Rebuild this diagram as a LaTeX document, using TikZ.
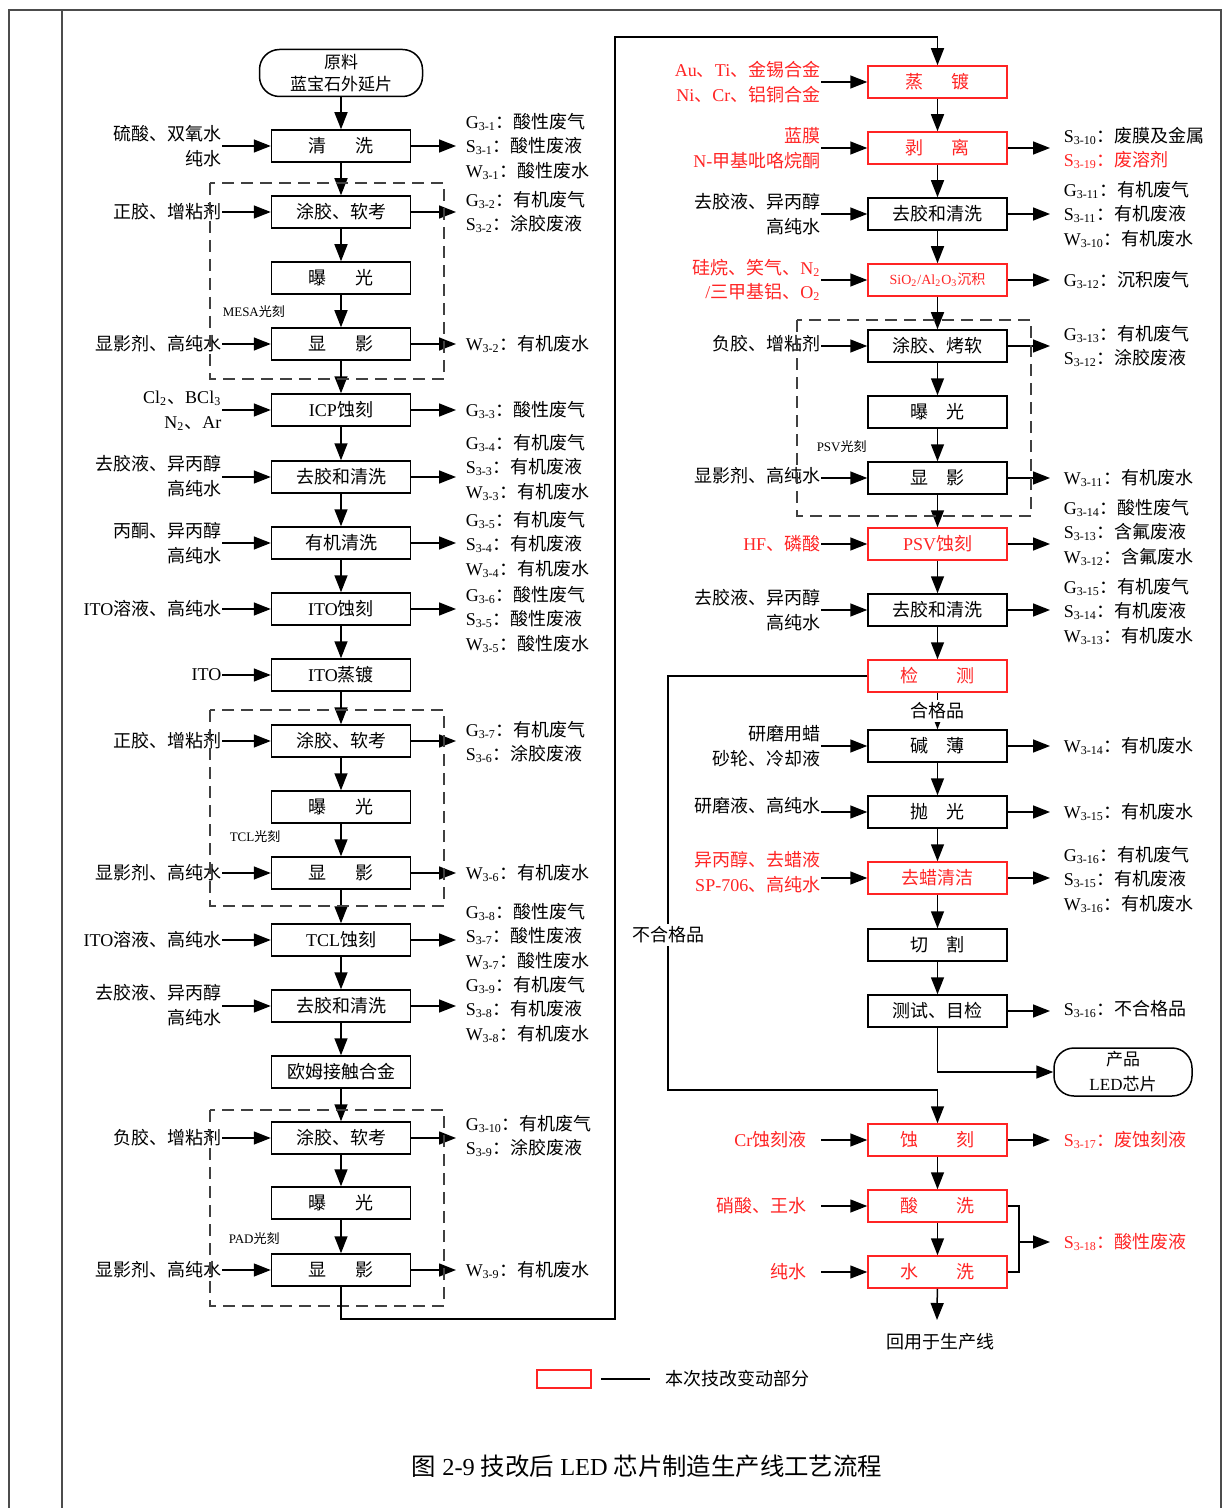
\documentclass[tikz,border=0pt]{standalone}
\usepackage{fontspec}
\usepackage{tikz}
\setmainfont{Liberation Serif}
\newfontfamily\cjkfont{Noto Sans CJK SC}
\usetikzlibrary{arrows.meta}
\definecolor{chg}{HTML}{FF2424}

% Chinese characters switch to the CJK family on their own
\XeTeXinterchartokenstate=1
\newcount\cjkcode
\def\cjkrange#1#2{\cjkcode=#1
  \loop\XeTeXcharclass\cjkcode=7 \advance\cjkcode by 1
  \ifnum\cjkcode<#2 \repeat}
\cjkrange{"3000}{"3040}
\cjkrange{"4E00}{"A000}
\cjkrange{"FF00}{"FFF0}
\XeTeXinterchartoks 0 7 = {\cjkfont}
\XeTeXinterchartoks 4095 7 = {\cjkfont}
\XeTeXinterchartoks 7 0 = {\rmfamily}
\XeTeXinterchartoks 7 4095 = {\rmfamily}

\newcommand\wst[3]{#1\textsubscript{3-#2}：#3}

\begin{document}
\begin{tikzpicture}[x=0.5pt, y=-0.5pt, line width=0.75pt,
    >={Triangle[length=8.5pt, width=6.5pt]},
    every node/.style={font=\fontsize{9}{12.25}\selectfont},
    box/.style={draw, minimum width=69.5pt, minimum height=16pt, inner sep=0pt},
    lab/.style={inner sep=0pt, align=right, anchor=east},
    waste/.style={inner sep=0pt, align=left, anchor=west},
    grpbox/.style={draw=black!75, dash pattern=on 6pt off 3.5pt},
    tag/.style={inner sep=0pt, anchor=west, font=\fontsize{6.5}{8}\selectfont}]
  \useasboundingbox (0,0) rectangle (1222,1508);

  % page frame
  \draw[line width=0.6pt, black!70] (9,1508) -- (9,10) -- (1221,10) -- (1221,1508);
  \draw[line width=0.6pt, black!70] (62,10) -- (62,1508);

  % left column
  \node[draw, rounded corners=10pt, minimum width=81.5pt, minimum height=23.5pt,
        inner sep=0pt, align=center, font=\fontsize{8.5}{11}\selectfont] (raw) at (341,73)
    {原料\\蓝宝石外延片};
  \foreach[count=\i] \yy/\txt in
      {146/{清\hspace{1.6em}洗}, 212/{涂胶、软考}, 278/{曝\hspace{1.6em}光},
       344/{显\hspace{1.6em}影}, 410/{ICP蚀刻}, 477/{去胶和清洗}, 543/{有机清洗},
       609/{ITO蚀刻}, 675/{ITO蒸镀}, 741/{涂胶、软考}, 807/{曝\hspace{1.6em}光},
       873/{显\hspace{1.6em}影}, 940/{TCL蚀刻}, 1006/{去胶和清洗}, 1072/{欧姆接触合金},
       1138/{涂胶、软考}, 1203/{曝\hspace{1.6em}光}, 1270/{显\hspace{1.6em}影}}
    \node[box] (L\i) at (341,\yy) {\txt};
  \draw[->] (raw) -- (L1);
  \foreach \i in {1,...,17} {
    \pgfmathtruncatemacro\j{\i+1}
    \draw[->] (L\i) -- (L\j);
  }

  \foreach \i/\yy/\txt in
      {1/146/{硫酸、双氧水\\纯水}, 2/212/{正胶、增粘剂}, 4/344/{显影剂、高纯水},
       5/411/{Cl\textsubscript{2}、BCl\textsubscript{3}\\N\textsubscript{2}、Ar},
       6/476/{去胶液、异丙醇\\高纯水}, 7/543/{丙酮、异丙醇\\高纯水},
       8/609/{ITO溶液、高纯水}, 9/675/{ITO}, 10/741/{正胶、增粘剂},
       12/873/{显影剂、高纯水}, 13/940/{ITO溶液、高纯水},
       14/1005/{去胶液、异丙醇\\高纯水}, 16/1138/{负胶、增粘剂}, 18/1270/{显影剂、高纯水}} {
    \node[lab] (inL\i) at (222,\yy) {\txt};
    \draw[->] (inL\i.east |- L\i.west) -- (L\i.west);
  }

  \foreach \i/\yy/\txt in
      {1/146/{\wst{G}{1}{酸性废气}\\\wst{S}{1}{酸性废液}\\\wst{W}{1}{酸性废水}},
       2/212/{\wst{G}{2}{有机废气}\\\wst{S}{2}{涂胶废液}},
       4/344/{\wst{W}{2}{有机废水}},
       5/410/{\wst{G}{3}{酸性废气}},
       6/467/{\wst{G}{4}{有机废气}\\\wst{S}{3}{有机废液}\\\wst{W}{3}{有机废水}},
       7/544/{\wst{G}{5}{有机废气}\\\wst{S}{4}{有机废液}\\\wst{W}{4}{有机废水}},
       8/619/{\wst{G}{6}{酸性废气}\\\wst{S}{5}{酸性废液}\\\wst{W}{5}{酸性废水}},
       10/742/{\wst{G}{7}{有机废气}\\\wst{S}{6}{涂胶废液}},
       12/873/{\wst{W}{6}{有机废水}},
       13/936/{\wst{G}{8}{酸性废气}\\\wst{S}{7}{酸性废液}\\\wst{W}{7}{酸性废水}},
       14/1009/{\wst{G}{9}{有机废气}\\\wst{S}{8}{有机废液}\\\wst{W}{8}{有机废水}},
       16/1136/{\wst{G}{10}{有机废气}\\\wst{S}{9}{涂胶废液}},
       18/1270/{\wst{W}{9}{有机废水}}} {
    \node[waste] (outL\i) at (465,\yy) {\txt};
    \draw[->, shorten >=4.5pt] (L\i.east) -- (L\i.east -| outL\i.west);
  }

  % photo steps
  \draw[grpbox] (210,183) rectangle (444,379);
  \draw[grpbox] (210,710) rectangle (444,906);
  \draw[grpbox] (210,1110) rectangle (444,1306);
  \node[tag] (mesa) at (222,312) {MESA光刻};
  \node[tag] (tcl) at (229,837) {TCL光刻};
  \node[tag] (pad) at (228,1239) {PAD光刻};

  % right column
  \foreach[count=\i] \yy/\cc/\txt in
      {82/chg/{蒸\hspace{1.6em}镀}, 148/chg/{剥\hspace{1.6em}离}, 214/black/{去胶和清洗},
       280/chg/{\fontsize{7}{8}\selectfont SiO\textsubscript{2}/Al\textsubscript{2}O\textsubscript{3}沉积},
       346/black/{涂胶、烤软}, 412/black/{曝\hspace{1em}光}, 478/black/{显\hspace{1em}影},
       544/chg/{PSV蚀刻}, 610/black/{去胶和清洗}, 676/chg/{检\hspace{2.1em}测},
       746/black/{碱\hspace{1em}薄}, 812/black/{抛\hspace{1em}光}, 878/chg/{去蜡清洁},
       945/black/{切\hspace{1em}割}, 1011/black/{测试、目检}, 1140/chg/{蚀\hspace{2.1em}刻},
       1206/chg/{酸\hspace{2.1em}洗}, 1272/chg/{水\hspace{2.1em}洗}}
    \node[box, draw=\cc, text=\cc] (R\i) at (937.5,\yy) {\txt};
  \foreach \i in {1,2,3,4,5,6,7,8,9,11,12,13,14,16,17} {
    \pgfmathtruncatemacro\j{\i+1}
    \draw[->] (R\i) -- (R\j);
  }
  \draw[->] (R10) -- node[fill=white, inner sep=1.5pt] (okTxt) {合格品} (R11);

  \foreach \i/\yy/\cc/\sep/\txt in
      {1/82/chg/0pt/{Au、Ti、金锡合金\\Ni、Cr、铝铜合金},
       2/148/chg/0pt/{蓝膜\\N-甲基吡咯烷酮},
       3/214/black/0pt/{去胶液、异丙醇\\高纯水},
       4/280/chg/0pt/{硅烷、笑气、N\textsubscript{2}\\/三甲基铝、O\textsubscript{2}},
       5/344/black/0pt/{负胶、增粘剂},
       7/476/black/0pt/{显影剂、高纯水},
       8/544/chg/0pt/{HF、磷酸},
       9/610/black/0pt/{去胶液、异丙醇\\高纯水},
       11/746/black/0pt/{研磨用蜡\\砂轮、冷却液},
       12/806/black/0pt/{研磨液、高纯水},
       13/872/chg/0pt/{异丙醇、去蜡液\\SP-706、高纯水},
       16/1140/chg/7pt/{Cr蚀刻液},
       17/1206/chg/7pt/{硝酸、王水},
       18/1272/chg/7pt/{纯水}} {
    \node[lab, text=\cc, inner xsep=\sep] (inR\i) at (821,\yy) {\txt};
    \draw[->] (inR\i.east |- R\i.west) -- (R\i.west);
  }

  \foreach \i/\yy/\cc/\txt in
      {2/148/black/{\wst{S}{10}{废膜及金属}\\\textcolor{chg}{\wst{S}{19}{废溶剂}}},
       3/214/black/{\wst{G}{11}{有机废气}\\\wst{S}{11}{有机废液}\\\wst{W}{10}{有机废水}},
       4/280/black/{\wst{G}{12}{沉积废气}},
       5/346/black/{\wst{G}{13}{有机废气}\\\wst{S}{12}{涂胶废液}},
       7/478/black/{\wst{W}{11}{有机废水}},
       8/532/black/{\wst{G}{14}{酸性废气}\\\wst{S}{13}{含氟废液}\\\wst{W}{12}{含氟废水}},
       9/611/black/{\wst{G}{15}{有机废气}\\\wst{S}{14}{有机废液}\\\wst{W}{13}{有机废水}},
       11/746/black/{\wst{W}{14}{有机废水}},
       12/812/black/{\wst{W}{15}{有机废水}},
       13/879/black/{\wst{G}{16}{有机废气}\\\wst{S}{15}{有机废液}\\\wst{W}{16}{有机废水}},
       15/1009/black/{\wst{S}{16}{不合格品}},
       16/1140/chg/{\wst{S}{17}{废蚀刻液}}} {
    \node[waste, text=\cc] (outR\i) at (1063,\yy) {\txt};
    \draw[->, shorten >=6.5pt] (R\i.east) -- (R\i.east -| outR\i.west);
  }

  \draw[grpbox] (797,320) rectangle (1031,516);
  \node[tag] (psv) at (816,447) {PSV光刻};

  % from left column over to the right one
  \coordinate (lnkB) at (615,1319);
  \coordinate (lnkT) at (615,37);
  \draw[->] (L18) |- (lnkB) -- (lnkT) -| (R1);

  % rejected parts
  \coordinate (rej) at (668,1090);
  \draw[->] (R10.west) -| (rej) -| (R16.north);
  \node[fill=white, inner sep=1.5pt] (rejTxt) at (668,935) {不合格品};

  % product
  \node[draw, rounded corners=10pt, minimum width=69pt, minimum height=24pt, inner sep=0pt,
        align=center, font=\fontsize{8.5}{12.5}\selectfont] (prod) at (1123,1072) {产品\\LED芯片};
  \draw[->] (R15) |- (prod);

  % acid and water rinse
  \coordinate (acid) at (1019,1242);
  \draw (R17.east) -| (acid) |- (R18.east);
  \node[waste, text=chg] (outAcid) at (1063,1242) {\wst{S}{18}{酸性废液}};
  \draw[->, shorten >=6.5pt] (acid) -- (outAcid.west);

  \node (reuse) at (940,1342) {回用于生产线};
  \coordinate (reuseEnd) at (937,1320);
  \draw[->] (R18) -- (reuseEnd);

  % legend
  \node[draw=chg, minimum width=27pt, minimum height=9pt, inner sep=0pt] (legBox) at (564,1379) {};
  \node[anchor=west, inner sep=0pt] (legTxt) at (665,1379) {本次技改变动部分};
  \draw ([xshift=4.5pt]legBox.east) -- ([xshift=-7.5pt]legTxt.west);

  \node[font=\fontsize{12.2}{15}\selectfont] (cap) at (647,1466)
    {图 2-9 技改后 LED 芯片制造生产线工艺流程};
\end{tikzpicture}
\end{document}
